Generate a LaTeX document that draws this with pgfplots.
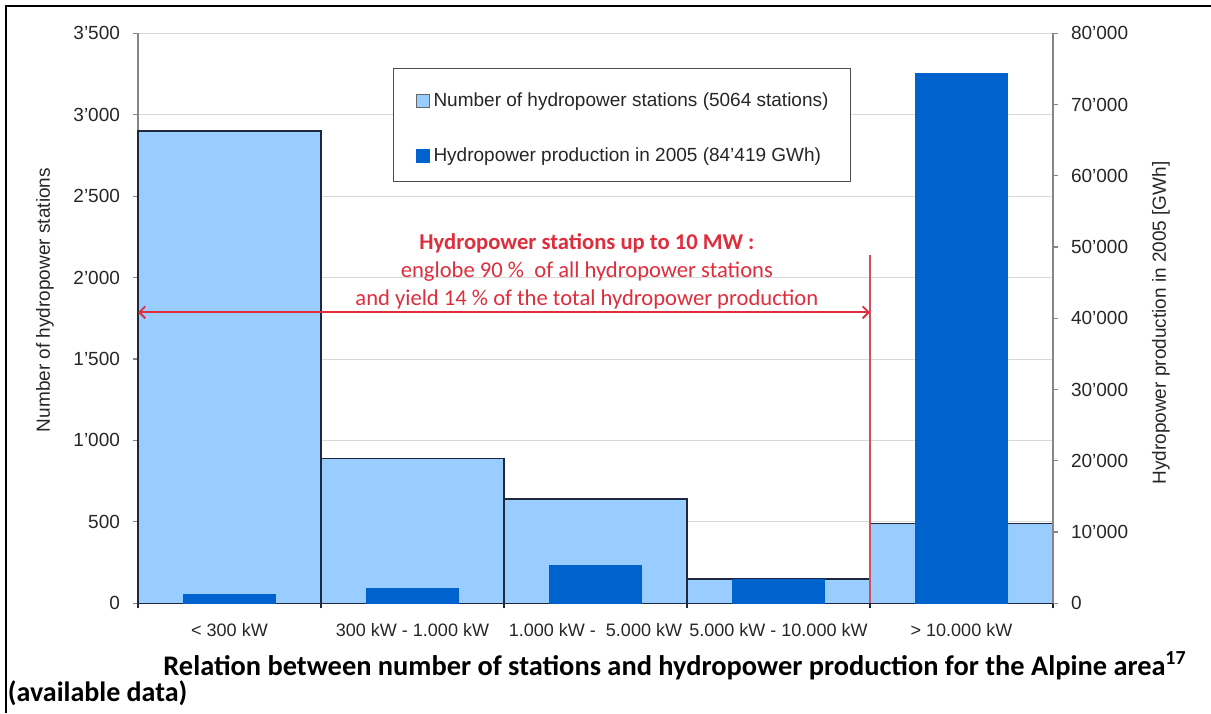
\documentclass[border=0pt]{standalone}
\usepackage{fontspec}
\setmainfont{Liberation Sans}
\newfontfamily\calibri{Carlito}
\usepackage{pgfplots}
\pgfplotsset{compat=1.18}
\usetikzlibrary{arrows.meta}
\definecolor{lightbar}{RGB}{153,204,255}
\definecolor{darkbar}{RGB}{0,98,204}
\definecolor{barline}{RGB}{30,40,60}
\definecolor{annred}{RGB}{222,45,60}
\definecolor{vred}{RGB}{205,80,95}
\definecolor{axgray}{RGB}{134,134,134}
\definecolor{gridgray}{RGB}{217,217,217}
\pgfplotsset{sqlegend/.style={legend image code/.code={\draw[##1] (0pt,-5pt) rectangle (6.5pt,1.5pt);}}}

\begin{document}
\begin{tikzpicture}
\path[use as bounding box] (0,0) rectangle (605.5pt,356.5pt);
\draw[black, line width=1.15pt] (3pt,0) -- (3pt,353.5pt) -- (605.5pt,353.5pt);

\begin{axis}[
  at={(69pt,54.85pt)}, anchor=south west,
  scale only axis, width=457.5pt, height=285pt,
  xmin=-0.5, xmax=4.5, ymin=0, ymax=3500,
  axis x line*=bottom, axis y line*=left,
  clip=false,
  scaled y ticks=false,
  bar width=1, bar shift=0pt,
  ytick={0,500,1000,1500,2000,2500,3000,3500},
  yticklabels={0,500,1'000,1'500,2'000,2'500,3'000,3'500},
  xtick={0,1,2,3,4},
  xticklabels={{< 300 kW},{300 kW - 1.000 kW},{1.000 kW -\ \ 5.000 kW},{5.000 kW - 10.000 kW},{> 10.000 kW}},
  minor xtick={-0.5,0.5,1.5,2.5,3.5,4.5},
  major x tick style={draw=none},
  minor x tick style={barline, line width=0.6pt},
  minor tick length=2.5pt,
  major tick length=2.5pt,
  tick align=outside,
  ytick style={axgray, line width=0.6pt},
  ymajorgrids, grid style={gridgray, line width=0.5pt},
  y axis line style={axgray, line width=0.8pt},
  x axis line style={barline!90, line width=0.8pt},
  yticklabel style={font=\fontsize{9.5}{11}\selectfont, text=black!85, xshift=-3pt},
  xticklabel style={font=\fontsize{9}{11}\selectfont, text=black!85, yshift=-4pt},
  ylabel={Number of hydropower stations},
  every axis y label/.style={at={(rel axis cs:-0.1016,0.532)}, rotate=90, anchor=center, font=\fontsize{9.5}{11}\selectfont, text=black!85},
]
\addplot[ybar, fill=lightbar, draw=barline, line width=0.75pt, sqlegend] coordinates {(0,2900) (1,890) (2,640) (3,148) (4,489)};
\draw[vred, line width=0.8pt] (axis cs:3.5,0) -- (axis cs:3.5,2140);
\draw[annred, line width=0.9pt, {Straight Barb[length=3pt,width=6pt]}-{Straight Barb[length=3pt,width=6pt]}] (axis cs:-0.5,1787) -- (axis cs:3.5,1787);
\node[annred, align=center, font=\calibri\fontsize{11.3}{14}\selectfont] at (axis cs:1.953,2040)
  {\textbf{Hydropower stations up to 10 MW :}\\englobe 90 \%\ \ of all hydropower stations\\and yield 14 \% of the total hydropower production};
\end{axis}

\begin{axis}[
  at={(69pt,54.85pt)}, anchor=south west,
  scale only axis, width=457.5pt, height=285pt,
  xmin=-0.5, xmax=4.5, ymin=0, ymax=80000,
  axis x line=none, axis y line*=right,
  clip=false,
  scaled y ticks=false,
  bar width=0.5, bar shift=0pt,
  ytick={0,10000,20000,30000,40000,50000,60000,70000,80000},
  yticklabels={0,10'000,20'000,30'000,40'000,50'000,60'000,70'000,80'000},
  major tick length=2.5pt,
  tick align=outside,
  ytick style={axgray, line width=0.6pt},
  y axis line style={axgray, line width=0.8pt},
  yticklabel style={font=\fontsize{9.5}{11}\selectfont, text=black!85, xshift=3pt},
  ylabel={Hydropower production in 2005 [GWh]},
  every axis y label/.style={at={(rel axis cs:1.118,0.4918)}, rotate=90, anchor=center, font=\fontsize{9.5}{11}\selectfont, text=black!85},
  legend style={at={(rel axis cs:0.2787,0.939)}, anchor=north west,
    draw=black!70, line width=0.5pt, inner xsep=11pt, inner ysep=9.6pt,
    row sep=17.5pt, column sep=2pt,
    font=\fontsize{9.5}{11}\selectfont, text=black!85,
    nodes={inner sep=0pt, text height=9.5pt, text depth=0pt}},
  legend cell align=left,
]
\addlegendimage{fill=lightbar, draw=black!60, line width=0.5pt, sqlegend}
\addlegendentry{Number of hydropower stations (5064 stations)}
\addplot[ybar, fill=darkbar, draw=darkbar, line width=0.5pt, sqlegend] coordinates {(0,1165) (1,2050) (2,5240) (3,3370) (4,74290)};
\addlegendentry{Hydropower production in 2005 (84'419 GWh)}
\end{axis}

\node[anchor=base west, inner sep=0pt, font=\calibri\bfseries\fontsize{14.2}{16}\selectfont] at (81.5pt,19pt)
  {Relation between number of stations and hydropower production for the Alpine area\textsuperscript{17}};
\node[anchor=base west, inner sep=0pt, font=\calibri\bfseries\fontsize{14}{16}\selectfont] at (3.75pt,6pt)
  {(available data)};
\end{tikzpicture}
\end{document}
